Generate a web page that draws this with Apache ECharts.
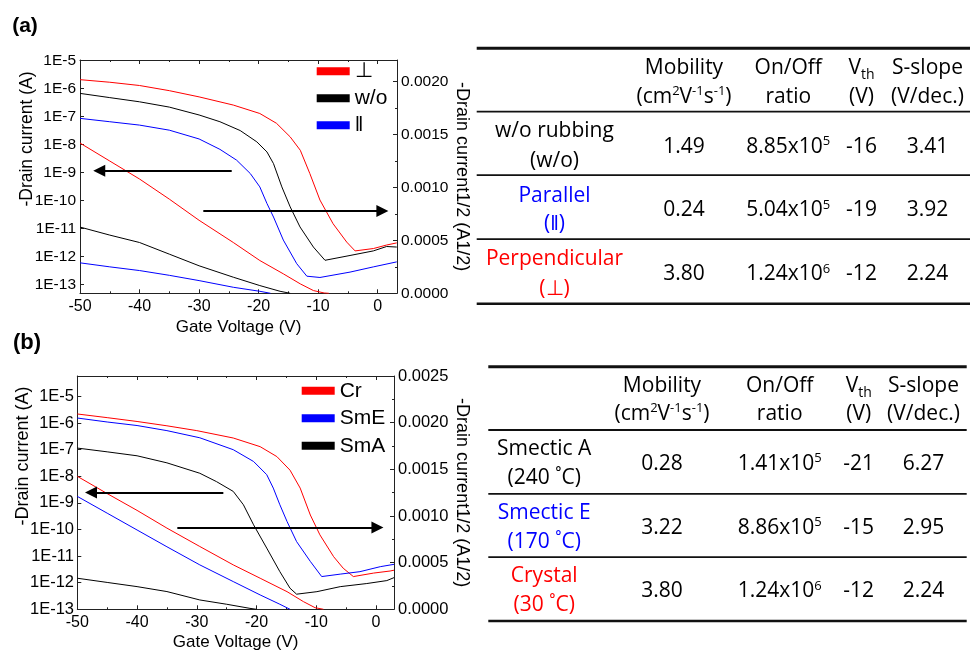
<!DOCTYPE html>
<html><head><meta charset="utf-8">
<script src="https://cdn.jsdelivr.net/npm/echarts@6/dist/echarts.min.js"></script>
<style>html,body{margin:0;padding:0;background:#fff}#c{width:970px;height:652px}</style>
</head><body><div id="c"></div>
<script>
// ---------------- DATA ----------------
// (a) log transfer curves: gate voltage (V) and -drain current (A)
const vA_perp = [-50,-45,-40,-35,-30,-24.25,-19.8,-17,-14.7,-13,-11.4,-9.7,-7.5,-5.2,-3.8,-0.7,1.5,3.2];
const idA_perp = [2.1e-6,1.7e-6,1.3e-6,8.5e-7,5.1e-7,2.6e-7,1.3e-7,5.8e-8,1.9e-8,6.3e-9,9.3e-10,1.05e-10,1.5e-11,3.3e-12,1.6e-12,1.95e-12,2.6e-12,3.1e-12];
const vA_wo = [-50,-45,-40,-35,-30,-26.5,-23.1,-20.3,-18.6,-17.5,-16.1,-14.7,-13.05,-10.8,-8.85,-4.65,-0.74,1.5,3.2];
const idA_wo = [6.8e-7,4.8e-7,3.4e-7,2.2e-7,1.15e-7,6.6e-8,3.2e-8,1.26e-8,5.5e-9,2.1e-9,3.1e-10,6.0e-11,1.15e-11,2.2e-12,7.4e-13,1.1e-12,1.6e-12,2.3e-12,2.2e-12];
const vA_par = [-50,-45,-40,-35,-30,-26.5,-23.7,-21.4,-19.8,-18.6,-17.5,-15.85,-13.6,-11.9,-9.7,-4.65,-0.74,3.2];
const idA_par = [8.7e-8,6.6e-8,5.0e-8,3.3e-8,1.6e-8,6.8e-9,2.8e-9,9.3e-10,3.1e-10,7.9e-11,2.6e-11,3.9e-12,5.6e-13,2.0e-13,1.8e-13,2.8e-13,4.3e-13,6.5e-13];
// (a) square-root curves (A^1/2)
const vA_perp_sq = [-50,-45,-40,-35,-30,-24.25,-19.8,-15.85,-13,-10.8,-9,-8.2];
const sqA_perp = [0.00142,0.00125,0.00108,0.00089,0.00069,0.00048,0.00031,0.000184,0.000089,0.000026,0.000003,0];
const vA_wo_sq = [-50,-45,-40,-35,-30,-24.25,-19.8,-16.4,-14.7];
const sqA_wo = [0.000626,0.00055,0.00048,0.00037,0.00026,0.000152,0.000073,0.000019,0];
const vA_par_sq = [-50,-45,-40,-35,-30,-24.25,-19.8,-18];
const sqA_par = [0.000288,0.00025,0.000215,0.00017,0.00012,0.000057,0.000019,0];

// (b) log transfer curves
const vB_cr = [-50,-45,-40,-35,-30,-23.9,-19.4,-16.6,-14.4,-12.7,-11.0,-9.4,-7.1,-5.5,-3.8,-0.4,2.35,3.0];
const idB_cr = [2.2e-6,1.6e-6,1.15e-6,7.9e-7,5.2e-7,2.75e-7,1.3e-7,5.5e-8,1.7e-8,3.6e-9,3.5e-10,6.3e-11,9.5e-12,3.5e-12,1.7e-12,2.3e-12,2.75e-12,2.95e-12];
const vB_sme = [-50,-45,-40,-35,-29.5,-23.9,-20.5,-18.3,-17.2,-16.1,-14.9,-13.3,-11.0,-9.1,-6.0,-2.7,0.7,3.0];
const idB_sme = [1.55e-6,1.1e-6,8.1e-7,5.2e-7,2.8e-7,1.0e-7,3.6e-8,1.15e-8,3.6e-9,8.5e-10,2.0e-10,3.5e-11,6.3e-12,1.7e-12,2.1e-12,2.6e-12,4.0e-12,4.9e-12];
const vB_sma = [-50,-45,-40,-35,-29.5,-26.7,-23.9,-22.2,-20.5,-18.3,-16.1,-14.4,-13.3,-9.9,-6.0,-1.55,1.8,3.0];
const idB_sma = [1.15e-7,8.3e-8,5.9e-8,3.2e-8,1.3e-8,6.3e-9,2.7e-9,8.5e-10,1.5e-10,2.0e-11,2.6e-12,6.2e-13,3.7e-13,4.6e-13,7.1e-13,9.3e-13,1.2e-12,1.55e-12];
// (b) square-root curves
const vB_cr_sq = [-50,-45,-40,-35,-29.5,-23.9,-19.4,-14.9,-12.15,-10.2,-8.8];
const sqB_cr = [0.001425,0.00124,0.00106,0.00087,0.000673,0.000476,0.000333,0.000189,0.000082,0.000017,0];
const vB_sme_sq = [-50,-45,-40,-35,-29.5,-23.9,-19.4,-16.1,-14.4];
const sqB_sme = [0.00121,0.00103,0.00085,0.00067,0.000476,0.000297,0.000154,0.000054,0];
const vB_sma_sq = [-50,-45,-40,-35,-29.5,-25,-21.1,-20];
const sqB_sma = [0.000333,0.000288,0.000243,0.00019,0.0001,0.000054,0.00001,0];

// arrows [x1, y1, x2, y2] (y in A for log, A^1/2 for sqrt)
const arrowA_left = [-24.52, 1.16e-9, -46.77, 1.16e-9];
const arrowA_right = [-29.29, 0.000779, 0.78, 0.000779];
const arrowB_left = [-25.56, 2.45e-9, -47.71, 2.45e-9];
const arrowB_right = [-33.26, 0.000877, 0.23, 0.000877];

// tick values
const xTicks = [-50,-40,-30,-20,-10,0];
const xMinor = [-45,-35,-25,-15,-5];
const logTicks = [-13,-12,-11,-10,-9,-8,-7,-6,-5];
const sqTicksA = [0,0.0005,0.001,0.0015,0.002];
const sqMinorA = [0.00025,0.00075,0.00125,0.00175];
const sqTicksB = [0,0.0005,0.001,0.0015,0.002,0.0025];
const sqMinorB = [0.00025,0.00075,0.00125,0.00175,0.00225];

// legends
const legendA = ['⊥','w/o','‖'];
const legendB = ['Cr','SmE','SmA'];

// tables
const headerTop = ['Mobility','On/Off','V{sub|th}','S-slope'];
const headerBottom = ['(cm{sup|2}V{sup|-1}s{sup|-1})','ratio','(V)','(V/dec.)'];
const rowLabelsA = [['w/o rubbing','(w/o)'],['Parallel','(‖)'],['Perpendicular','(⊥)']];
const mobilityA = ['1.49','0.24','3.80'];
const onoffA = [[8.85,5],[5.04,5],[1.24,6]];
const vthA = [-16,-19,-12];
const sslopeA = ['3.41','3.92','2.24'];
const rowLabelsB = [['Smectic A','(240 ˚C)'],['Smectic E','(170 ˚C)'],['Crystal','(30 ˚C)']];
const mobilityB = ['0.28','3.22','3.80'];
const onoffB = [[1.41,5],[8.86,5],[1.24,6]];
const vthB = [-21,-15,-12];
const sslopeB = ['6.27','2.95','2.24'];

// ---------------- STYLE / LAYOUT ----------------
const FA = '"Liberation Sans", Arial, sans-serif';
const FT = '"Open Sans", sans-serif';
const AX = '#222';
const RED = '#ff0000', BLUE = '#0000ff', BLACK = '#000000';
const rowColors = [BLACK, BLUE, RED];

function xSet(g, max) {
  const base = {type:'value', gridIndex:g, min:-50, max:max, splitLine:{show:false}};
  return [
    Object.assign({}, base, {position:'bottom',
      axisLine:{show:true,onZero:false,lineStyle:{color:AX,width:1}},
      axisTick:{show:true,inside:true,length:4,customValues:xTicks,lineStyle:{color:AX}},
      axisLabel:{show:true,customValues:xTicks,fontSize:16,color:'#000',fontFamily:FA,margin:5},
      name:'Gate Voltage (V)', nameLocation:'middle', nameGap:g===0?26:25,
      nameTextStyle:{fontSize:17,color:'#000',fontFamily:FA}}),
    Object.assign({}, base, {position:'bottom', axisLine:{show:false,onZero:false},
      axisTick:{show:true,inside:true,length:2,customValues:xMinor,lineStyle:{color:AX}},
      axisLabel:{show:false}}),
    Object.assign({}, base, {position:'top',
      axisLine:{show:true,onZero:false,lineStyle:{color:AX,width:1}},
      axisTick:{show:true,inside:true,length:4,customValues:xTicks,lineStyle:{color:AX}},
      axisLabel:{show:false}}),
    Object.assign({}, base, {position:'top', axisLine:{show:false,onZero:false},
      axisTick:{show:true,inside:true,length:2,customValues:xMinor,lineStyle:{color:AX}},
      axisLabel:{show:false}})
  ];
}
function ySet(g, lmin, lmax, rmax, majors, minors, fs, lmargin, rgap) {
  return [
    {type:'value', gridIndex:g, position:'left', min:lmin, max:lmax, splitLine:{show:false},
      axisLine:{show:true,onZero:false,lineStyle:{color:AX,width:1}},
      axisTick:{show:true,inside:true,length:4,customValues:logTicks,lineStyle:{color:AX}},
      axisLabel:{show:true,customValues:logTicks,formatter:v=>'1E'+Math.round(v),fontSize:fs,color:'#000',fontFamily:FA,margin:lmargin}},
    {type:'value', gridIndex:g, position:'right', min:0, max:rmax, splitLine:{show:false},
      axisLine:{show:true,onZero:false,lineStyle:{color:AX,width:1}},
      axisTick:{show:true,inside:true,length:4,customValues:majors,lineStyle:{color:AX}},
      axisLabel:{show:true,customValues:majors,formatter:v=>v.toFixed(4),fontSize:fs,color:'#000',fontFamily:FA,margin:4},
      name:'-Drain current1/2 (A1/2)', nameLocation:'middle', nameRotate:-90, nameGap:rgap,
      nameTextStyle:{fontSize:18,color:'#000',fontFamily:FA}},
    {type:'value', gridIndex:g, position:'right', min:0, max:rmax, splitLine:{show:false},
      axisLine:{show:false,onZero:false},
      axisTick:{show:true,inside:true,length:2,customValues:minors,lineStyle:{color:AX}},
      axisLabel:{show:false}}
  ];
}
function arrowML(a, isLog) {
  const f = isLog ? (y=>Math.log10(y)) : (y=>y);
  return {silent:true, symbol:['none','triangle'], symbolSize:12, animation:false,
    label:{show:false}, lineStyle:{color:'#000',width:2,type:'solid'},
    emphasis:{disabled:true},
    data:[[{coord:[a[0], f(a[1])]},{coord:[a[2], f(a[3])]}]]};
}
function logSeries(name, v, id, color, xi, yi, ml) {
  const s = {type:'line', name, xAxisIndex:xi, yAxisIndex:yi, showSymbol:false, symbol:'none',
    data:v.map((x,i)=>[x, Math.log10(id[i])]), color,
    lineStyle:{color,width:1}, itemStyle:{color}, animation:false, z:3};
  if (ml) s.markLine = ml;
  return s;
}
function sqSeries(name, v, sq, color, xi, yi, ml) {
  const s = {type:'line', name, xAxisIndex:xi, yAxisIndex:yi, showSymbol:false, symbol:'none',
    data:v.map((x,i)=>[x, sq[i]]), color,
    lineStyle:{color,width:1}, itemStyle:{color}, animation:false, z:3};
  if (ml) s.markLine = ml;
  return s;
}

// tables
function buildTable(L) {
  const els = [];
  const rich = {
    sup:{fontSize:13, fontFamily:FT, fill:'#000', lineHeight:12, verticalAlign:'top'},
    sub:{fontSize:14, fontFamily:FT, fill:'#000', lineHeight:14, verticalAlign:'bottom'}
  };
  const txt = (x, y, t, color, lh) => ({type:'text', x, y, silent:true,
    style:{text:t, fontSize:21, fontFamily:FT, fill:color||'#000', align:'center', verticalAlign:'middle',
      lineHeight:lh||24, rich:JSON.parse(JSON.stringify(rich))}});
  const line = (y, w) => ({type:'line', silent:true, shape:{x1:L.x1, y1:y, x2:L.x2, y2:y}, style:{stroke:'#111', lineWidth:w}});
  L.lines.forEach((y,i)=>els.push(line(y, L.lw[i])));
  for (let c=0;c<4;c++) {
    els.push(txt(L.cols[c+1], L.h1, headerTop[c], '#000', c===2?28:24));
    els.push(txt(L.cols[c+1], L.h2, headerBottom[c]));
  }
  for (let r=0;r<3;r++) {
    const col = rowColors[r];
    const t = L.rows[r];
    els.push(txt(L.cols[0], t[0], L.labels[r][0], col));
    els.push(txt(L.cols[0], t[1], L.labels[r][1], col));
    els.push(txt(L.cols[1], t[2], L.mob[r]));
    els.push(txt(L.cols[2], t[2], L.onoff[r][0].toFixed(2)+'x10{sup|'+L.onoff[r][1]+'}'));
    els.push(txt(L.cols[3], t[2], String(L.vth[r])));
    els.push(txt(L.cols[4], t[2], L.ss[r]));
  }
  return els;
}
const tableA = buildTable({x1:476.7, x2:970, lines:[48.3,111.7,175.2,239.2,303.7], lw:[3,1.8,1.8,1.8,2.5],
  cols:[554.5,684,788.3,861.5,927.5], h1:68.5, h2:96.7,
  rows:[[130.7,160.7,147],[196,224,210.5],[259,289,274.5]],
  labels:rowLabelsA, mob:mobilityA, onoff:onoffA, vth:vthA, ss:sslopeA});
const tableB = buildTable({x1:488.3, x2:966.7, lines:[366.7,430,493.8,557.2,621], lw:[3,1.8,1.8,1.8,2.5],
  cols:[544.2,662,779.7,858.7,923.5], h1:386, h2:413.8,
  rows:[[449,477.8,464],[513,541.7,528],[576.5,605,591.5]],
  labels:rowLabelsB, mob:mobilityB, onoff:onoffB, vth:vthB, ss:sslopeB});

const legendStyle = {orient:'vertical', icon:'rect', itemWidth:33, itemHeight:8, padding:0,
  selectedMode:false, textStyle:{fontSize:21, color:'#000', fontFamily:FA}};

const option = {
  animation:false,
  backgroundColor:'#fff',
  grid:[
    {left:80, top:60, width:317, height:233.3, outerBoundsMode:'none'},
    {left:77.3, top:376, width:316.7, height:233.3, outerBoundsMode:'none'}
  ],
  xAxis:[].concat(xSet(0, 3.24), xSet(1, 3.0)),
  yAxis:[].concat(
    ySet(0, -13.31, -4.975, 0.002205, sqTicksA, sqMinorA, 15.5, 4, 55.7),
    ySet(1, -13, -4.23, 0.0025, sqTicksB, sqMinorB, 16.5, 3.3, 58.7)
  ),
  legend:[
    Object.assign({}, legendStyle, {data:legendA, left:316.7, top:60.7, itemGap:6}),
    Object.assign({}, legendStyle, {data:legendB, left:301.7, top:380.3, itemGap:6.5})
  ],
  series:[
    logSeries('⊥', vA_perp, idA_perp, RED, 0, 0, arrowML(arrowA_left, true)),
    logSeries('w/o', vA_wo, idA_wo, BLACK, 0, 0),
    logSeries('‖', vA_par, idA_par, BLUE, 0, 0),
    sqSeries('⊥', vA_perp_sq, sqA_perp, RED, 0, 1, arrowML(arrowA_right, false)),
    sqSeries('w/o', vA_wo_sq, sqA_wo, BLACK, 0, 1),
    sqSeries('‖', vA_par_sq, sqA_par, BLUE, 0, 1),
    logSeries('Cr', vB_cr, idB_cr, RED, 4, 3, arrowML(arrowB_left, true)),
    logSeries('SmE', vB_sme, idB_sme, BLUE, 4, 3),
    logSeries('SmA', vB_sma, idB_sma, BLACK, 4, 3),
    sqSeries('Cr', vB_cr_sq, sqB_cr, RED, 4, 4, arrowML(arrowB_right, false)),
    sqSeries('SmE', vB_sme_sq, sqB_sme, BLUE, 4, 4),
    sqSeries('SmA', vB_sma_sq, sqB_sma, BLACK, 4, 4)
  ],
  graphic:{elements:[
    {type:'text', x:25, y:26, silent:true, style:{text:'(a)', fontSize:21, fontWeight:'bold', fontFamily:FA, fill:'#000', align:'center', verticalAlign:'middle'}},
    {type:'text', x:27, y:343, silent:true, style:{text:'(b)', fontSize:22, fontWeight:'bold', fontFamily:FA, fill:'#000', align:'center', verticalAlign:'middle'}},
    {type:'text', x:26.7, y:139, rotation:Math.PI/2, silent:true, style:{text:'-Drain current (A)', fontSize:17.5, fontFamily:FA, fill:'#000', align:'center', verticalAlign:'middle'}},
    {type:'text', x:23.3, y:456, rotation:Math.PI/2, silent:true, style:{text:'-Drain current (A)', fontSize:18, fontFamily:FA, fill:'#000', align:'center', verticalAlign:'middle'}}
  ].concat(tableA, tableB)}
};
const chart = echarts.init(document.getElementById('c'), null, {renderer:'canvas'});
chart.setOption(option);
</script>
</body></html>
